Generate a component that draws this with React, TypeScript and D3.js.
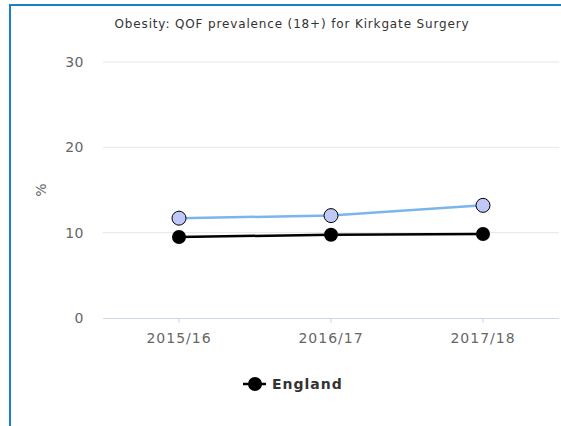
import React, { useEffect, useRef } from "react";
import * as d3 from "d3";

const categories = ["2015/16", "2016/17", "2017/18"];
const practiceValues = [11.7, 12.0, 13.2];
const englandValues = [9.5, 9.75, 9.85];
const yTicks = [0, 10, 20, 30];
const title = "Obesity: QOF prevalence (18+) for Kirkgate Surgery";

export default function App() {
  const ref = useRef<SVGSVGElement>(null);

  useEffect(() => {
    const svg = d3.select(ref.current);
    svg.selectAll("*").remove();
    const font = "'DejaVu Sans', Verdana, sans-serif";
    const left = 103, right = 559, top = 62, bottom = 318;

    // frame
    svg.append("rect").attr("x", 10).attr("y", 5).attr("width", 600).attr("height", 500)
      .attr("fill", "#fff").attr("stroke", "#1a7fc9").attr("stroke-width", 2);

    const x = d3.scaleBand().domain(categories).range([left, right]);
    const y = d3.scaleLinear().domain([0, 30]).range([bottom, top]);
    const cx = (c: string) => (x(c) as number) + x.bandwidth() / 2;

    svg.append("text").attr("x", 292).attr("y", 28).attr("text-anchor", "middle")
      .attr("font-family", font).attr("font-size", 12).attr("letter-spacing", 0.85)
      .attr("fill", "#333").text(title);

    // grid
    svg.append("g").selectAll("line").data(yTicks.filter(d => d > 0)).enter().append("line")
      .attr("x1", left).attr("x2", right).attr("y1", d => y(d)).attr("y2", d => y(d))
      .attr("stroke", "#e6e6e6");
    svg.append("g").selectAll("text").data(yTicks).enter().append("text")
      .attr("x", 84).attr("y", d => y(d) + 5).attr("text-anchor", "end")
      .attr("font-family", font).attr("font-size", 14).attr("letter-spacing", 0.5)
      .attr("fill", "#666").text(d => d);

    svg.append("text").attr("transform", "translate(46,190) rotate(-90)").attr("text-anchor", "middle")
      .attr("font-family", font).attr("font-size", 14).attr("fill", "#666").text("%");

    // x axis
    svg.append("line").attr("x1", left).attr("x2", right).attr("y1", bottom + 0.5).attr("y2", bottom + 0.5)
      .attr("stroke", "#ccd6eb");
    svg.append("g").selectAll("line").data(categories).enter().append("line")
      .attr("x1", d => cx(d)).attr("x2", d => cx(d)).attr("y1", bottom).attr("y2", bottom + 5)
      .attr("stroke", "#ccd6eb");
    svg.append("g").selectAll("text").data(categories).enter().append("text")
      .attr("x", d => cx(d)).attr("y", 343).attr("text-anchor", "middle")
      .attr("font-family", font).attr("font-size", 14).attr("letter-spacing", 1)
      .attr("fill", "#666").text(d => d);

    const line = d3.line<number>().x((d, i) => cx(categories[i])).y(d => y(d));

    svg.append("path").attr("d", line(practiceValues)).attr("fill", "none")
      .attr("stroke", "#7cb5ec").attr("stroke-width", 2.5);
    svg.append("path").attr("d", line(englandValues)).attr("fill", "none")
      .attr("stroke", "#000").attr("stroke-width", 2.5);

    svg.append("g").selectAll("circle").data(practiceValues).enter().append("circle")
      .attr("cx", (d, i) => cx(categories[i])).attr("cy", d => y(d)).attr("r", 7)
      .attr("fill", "#c0c8f8").attr("stroke", "#000").attr("stroke-width", 1);
    svg.append("g").selectAll("circle").data(englandValues).enter().append("circle")
      .attr("cx", (d, i) => cx(categories[i])).attr("cy", d => y(d)).attr("r", 7)
      .attr("fill", "#000");

    // legend
    svg.append("line").attr("x1", 243).attr("x2", 266).attr("y1", 384).attr("y2", 384)
      .attr("stroke", "#000").attr("stroke-width", 2.5);
    svg.append("circle").attr("cx", 255).attr("cy", 384).attr("r", 7).attr("fill", "#000");
    svg.append("text").attr("x", 272).attr("y", 389).attr("font-family", font)
      .attr("font-size", 14).attr("font-weight", "bold").attr("letter-spacing", 1)
      .attr("fill", "#333").text("England");
  }, []);

  return (
    <svg ref={ref} width={561} height={426}
      style={{ position: "absolute", left: 0, top: 0 }} />
  );
}
